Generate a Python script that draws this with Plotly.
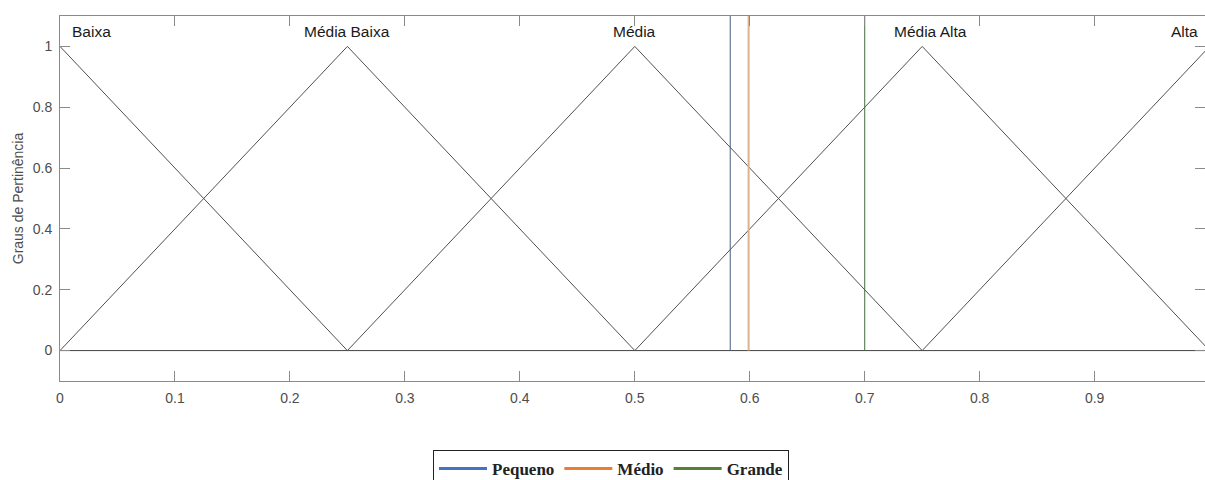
import plotly.graph_objects as go

# Membership functions (triangular)
mf_names = ["Baixa", "Média Baixa", "Média", "Média Alta", "Alta"]
mf_x = [[0, 0.25], [0, 0.25, 0.5], [0.25, 0.5, 0.75], [0.5, 0.75, 1.0], [0.75, 1.0]]
mf_y = [[1, 0], [0, 1, 0], [0, 1, 0], [0, 1, 0], [0, 1]]
label_x = [0.009, 0.25, 0.5, 0.757, 0.992]
label_anchor = ["left", "center", "center", "center", "right"]

# Vertical markers
marker_names = ["Pequeno", "Médio", "Grande"]
marker_x = [0.583, 0.599, 0.70]
marker_colors = ["#4b5b82", "#d9b391", "#3f6e3f"]
marker_widths = [1, 2, 1]
legend_colors = ["#4472C4", "#ED7D31", "#548235"]

x_ticks = [0, 0.1, 0.2, 0.3, 0.4, 0.5, 0.6, 0.7, 0.8, 0.9]
y_ticks = [0, 0.2, 0.4, 0.6, 0.8, 1]

fig = go.Figure()

# zero baseline
fig.add_trace(go.Scatter(x=[0, 1], y=[0, 0], mode="lines",
                         line=dict(color="#444444", width=1), showlegend=False, hoverinfo="skip"))

for xs, ys in zip(mf_x, mf_y):
    fig.add_trace(go.Scatter(x=xs, y=ys, mode="lines",
                             line=dict(color="#505050", width=1), showlegend=False))

for name, xv, c, w, lc in zip(marker_names, marker_x, marker_colors, marker_widths, legend_colors):
    fig.add_trace(go.Scatter(x=[xv, xv], y=[0, 1.1], mode="lines",
                             line=dict(color=c, width=w), showlegend=False))
    # legend proxy
    fig.add_trace(go.Scatter(x=[None], y=[None], mode="lines", name=name,
                             line=dict(color=lc, width=3)))

for name, lx, anc in zip(mf_names, label_x, label_anchor):
    fig.add_annotation(x=lx, y=1.05, text=name, showarrow=False, xanchor=anc,
                       yanchor="middle", font=dict(family="Liberation Sans, Arial", size=15.5, color="#1a1a1a"))

axis_common = dict(showgrid=False, zeroline=False, showline=True, linecolor="#8a8a8a",
                   linewidth=1, mirror="ticks", ticks="inside", ticklen=10, tickcolor="#8a8a8a",
                   automargin=False, ticklabelstandoff=4,
                   tickfont=dict(family="Liberation Sans, Arial", size=14, color="#4d4d4d"))

fig.update_xaxes(range=[0, 0.996], tickvals=x_ticks, ticktext=[f"{v:g}" for v in x_ticks],
                 **axis_common)
fig.update_yaxes(range=[-0.1, 1.1], tickvals=y_ticks, ticktext=[f"{v:g}" for v in y_ticks],
                 title=dict(text="Graus de Pertinência", standoff=5,
                            font=dict(family="Liberation Sans, Arial", size=14, color="#4d4d4d")),
                 **axis_common)

fig.update_layout(
    width=1205, height=480,
    margin=dict(l=60, r=0, t=16, b=99, autoexpand=False),
    plot_bgcolor="white", paper_bgcolor="white",
    showlegend=True,
    legend=dict(orientation="h", xref="container", yref="container",
                x=611 / 1205, xanchor="center", y=1 - 450 / 480, yanchor="top",
                bordercolor="#222222", borderwidth=1,
                font=dict(family="Liberation Serif, Times New Roman", size=17, color="#222222",
                          weight="bold"),
                itemwidth=48, tracegroupgap=0),
)

fig.write_html("out.html", post_script="document.body.style.margin='0';",
               config={"displayModeBar": False})
